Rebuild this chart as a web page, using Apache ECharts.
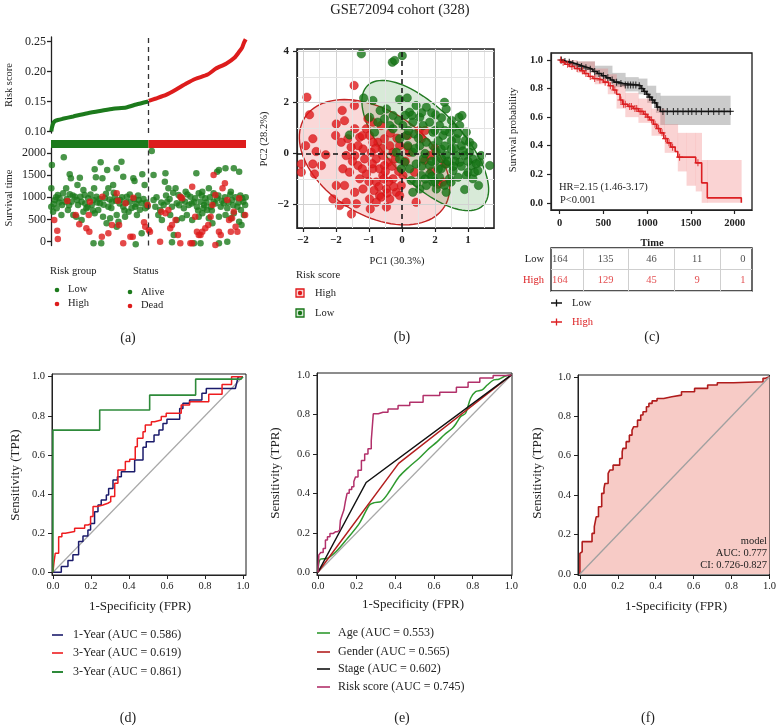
<!DOCTYPE html>
<html><head><meta charset="utf-8">
<script src="https://cdn.jsdelivr.net/npm/echarts@6/dist/echarts.min.js"></script>
<style>html,body{margin:0;padding:0;background:#fff}#c{width:779px;height:725px}</style>
</head><body><div id="c"></div>
<script>
// ================= DATA =================
// (a) risk score curve (patient index sorted by risk, score)
const riskScoreLow = [[1,0.100],[2,0.106],[4,0.113],[7,0.117],[12,0.119],[20,0.121],[38,0.125],[60,0.130],[83,0.134],[105,0.138],[127,0.140],[144,0.145],[164,0.150]];
const riskScoreHigh = [[165,0.151],[177,0.155],[194,0.161],[211,0.170],[228,0.180],[244,0.188],[264,0.195],[278,0.205],[295,0.213],[309,0.223],[317,0.233],[322,0.240],[325,0.248],[328,0.254]];
const riskGroupCounts = [164, 164];
const riskTicks = [0.10,0.15,0.20,0.25];
const survTicks = [0,500,1000,1500,2000];
// (a) survival time (patient index, days)
const survAlive = [[2,1725],[1,1200],[22,1898],[32,1515],[34,1425],[49,1440],[74,1628],[84,1785],[95,1613],[111,1650],[119,1800],[122,1463],[87,1425],[76,1448],[139,1425],[141,1365],[154,1515],[158,1275],[105,1275],[97,1200],[73,1200],[55,1163],[45,1275],[26,1200],[32,1065],[12,1050],[7,938],[15,975],[19,825],[24,900],[35,900],[41,1013],[46,825],[52,900],[57,1050],[63,975],[69,825],[72,938],[77,1013],[83,863],[91,975],[97,788],[103,900],[108,1013],[117,938],[122,788],[128,1013],[134,900],[142,788],[148,938],[153,863],[159,750],[1,788],[4,675],[10,750],[18,600],[29,713],[38,600],[55,675],[60,750],[74,638],[80,713],[88,563],[94,413],[100,525],[111,600],[114,450],[125,563],[131,675],[145,600],[153,188],[72,-38],[85,-38],[143,-60],[52,488],[21,1088],[43,563],[111,338],
[5,850],[9,1000],[14,880],[27,960],[31,820],[37,1040],[44,940],[50,1010],[58,860],[62,780],[67,1060],[71,700],[78,880],[82,960],[89,830],[93,1080],[99,950],[102,760],[106,1100],[110,920],[116,860],[120,1000],[124,700],[127,880],[133,1060],[136,760],[140,960],[144,850],[147,1040],[150,720],[156,960],[161,880],[163,800],
[173,1500],[170,2040],[193,1538],[192,1350],[198,1200],[210,1200],[215,1050],[221,938],[227,1125],[235,1013],[245,1538],[249,1088],[255,1125],[260,975],[266,1200],[274,1088],[280,1575],[283,1613],[294,1650],[303,1125],[308,1650],[317,1575],[322,975],[327,825],[173,938],[176,788],[184,713],[190,825],[196,900],[204,788],[212,863],[224,750],[232,825],[241,900],[246,788],[252,900],[258,825],[263,713],[269,788],[274,900],[280,975],[286,788],[291,863],[297,750],[305,938],[314,788],[320,713],[325,600],[181,600],[187,488],[201,600],[212,488],[221,525],[229,600],[238,488],[249,563],[255,638],[266,525],[272,413],[283,563],[294,600],[303,525],[308,638],[317,450],[321,375],[207,150],[204,-15],[241,-38],[252,-38],[297,0],[283,-38],
[178,1000],[186,880],[194,1040],[200,960],[206,1100],[216,820],[219,1000],[226,900],[230,1060],[237,860],[243,980],[248,700],[254,1040],[257,760],[262,880],[268,1000],[271,700],[277,860],[282,1040],[288,920],[293,1000],[299,880],[302,1060],[307,820],[311,1000],[316,880],[319,1040],[324,900],[328,1000]];
const survDead = [[28,915],[6,488],[11,248],[12,60],[42,600],[48,390],[60,300],[65,225],[64,600],[87,1013],[66,900],[111,1088],[113,923],[126,863],[139,990],[86,113],[97,188],[103,375],[115,375],[122,-38],[134,113],[138,113],[157,435],[159,338],[165,263],[167,225],[163,825],
[186,675],[193,638],[198,713],[204,375],[201,300],[210,488],[214,150],[218,1013],[221,975],[238,1238],[243,563],[246,225],[249,150],[252,150],[255,225],[260,300],[265,375],[269,563],[272,825],[274,1500],[277,1050],[283,225],[286,150],[289,1200],[293,1313],[297,938],[300,488],[303,225],[305,525],[308,675],[311,338],[314,225],[317,975],[327,600],[184,0],[218,-38],[235,-38],[238,-38],[277,-75]];

// (b) PCA
const pcaXTicks = [-3,-2,-1,0,1,2];
const pcaXTickLabels = ['\u22122','\u22122','\u22121','0','2','1'];
const pcaYTicks = [-2,0,2,4];
const pcaYTickLabels = ['\u22122','0','2','4'];
const pcaGridX = [-3,-2.5,-2,-1.5,-1,-0.5,0.5,1,1.5,2,2.5];
const pcaGridY = [-2,-1,1,2,3,4];
const pcaHigh = [[-2.88,2.21],[-2.80,1.52],[-1.45,2.67],[-1.81,1.69],[-1.44,1.88],[-2.70,0.58],[-2.92,0.31],[-3.05,-0.41],[-3.05,-0.73],[-2.60,0.08],[-2.31,-0.05],[-2.70,-0.41],[-2.65,-0.80],[-2.44,-0.47],[-1.99,1.16],[-1.74,1.29],[-1.64,0.58],[-1.84,0.44],[-2.01,0.71],[-1.43,0.97],[-1.28,0.64],[-1.08,0.97],[-0.98,0.71],[-0.88,1.23],[-0.63,1.10],[-0.73,0.44],[-0.53,0.58],[-1.18,0.18],[-1.43,-0.08],[-1.69,-0.08],[-1.79,-0.60],[-1.59,-0.73],[-1.33,-0.47],[-1.13,-0.21],[-0.93,0.05],[-0.78,-0.21],[-0.58,-0.08],[-0.42,-0.34],[-0.27,0.05],[-0.37,0.31],[-0.07,0.31],[-1.99,-1.25],[-1.74,-1.25],[-2.09,-1.78],[-1.89,-2.04],[-1.69,-1.91],[-1.53,-2.37],[-1.43,-1.52],[-1.28,-0.99],[-1.18,-1.39],[-0.98,-1.78],[-0.96,-2.17],[-0.78,-1.12],[-0.68,-1.65],[-0.58,-0.86],[-0.47,-1.39],[-0.37,-1.78],[-0.27,-0.99],[-0.17,-1.52],[-0.02,-1.25],[0.03,-0.86],[-0.63,-1.71],[-0.78,-1.91],[-1.38,-1.97],[-0.47,-2.10],[0.43,-1.91],[-0.07,-1.65],[1.24,-1.12],[0.18,0.25],[0.23,0.05],[0.52,0.90],[0.59,0.58],[0.84,-0.08],[0.18,0.71],[0.69,-0.27],[0.38,-0.73],[-0.88,-0.60],[-1.08,-0.80],[-0.68,-0.60],[-0.53,-0.47],[-0.88,0.44],[-1.33,0.31],[-1.54,0.25],[-1.03,1.36],
[-0.5,-0.7],[-0.3,-0.5],[-0.2,-0.2],[-0.6,0.2],[-0.9,-0.4],[-1.0,-1.1],[-0.7,-1.3],[-0.4,-1.1],[-0.1,-0.7],[-0.25,-1.3],[-0.55,-1.0],[-1.2,-0.6],[-1.5,-0.3],[-0.8,0.2],[-0.15,0.6],[0.1,-0.3],[-0.35,0.8],[-1.2,0.7],[-0.45,-1.55],[-0.85,-1.45],[1.0,0.2],[1.3,-0.4],[0.9,-0.7],[0.7,0.9],[1.1,-1.2]];
const pcaLow = [[-1.23,3.91],[-0.29,3.58],[-0.22,3.65],[0.01,3.84],[-1.16,2.18],[-0.88,2.08],[-0.07,2.12],[0.16,2.18],[-0.66,1.69],[-0.47,1.75],[-0.27,1.49],[0.43,1.88],[0.74,1.82],[1.02,1.52],[1.29,2.01],[1.34,1.75],[1.73,1.42],[1.82,1.49],[1.55,1.03],[1.92,0.51],[2.05,0.44],[2.15,-0.21],[2.35,-0.34],[2.66,-0.47],[2.0,-0.73],[1.95,-0.86],[1.9,-1.41],[2.32,-1.25],[-1.59,0.73],[0.23,1.62],[-0.98,1.42],[-0.73,1.23],[-0.83,0.84],
[0.03,1.10],[0.33,1.23],[0.54,1.42],[0.64,1.10],[0.84,1.23],[0.94,0.84],[1.14,1.10],[1.24,0.71],[1.44,0.84],[1.65,0.58],[1.80,0.31],[-0.07,0.58],[0.18,0.31],[0.33,0.05],[0.54,0.31],[0.74,0.44],[0.94,0.31],[1.04,0.05],[1.19,0.18],[1.34,-0.08],[1.49,0.18],[1.65,-0.08],[1.75,-0.34],[1.90,-0.08],[2.05,0.05],[-0.07,-0.21],[0.08,-0.34],[0.23,-0.60],[0.43,-0.41],[0.64,-0.21],[0.84,-0.47],[1.04,-0.27],[1.19,-0.60],[1.34,-0.41],[1.55,-0.67],[1.70,-0.93],[1.44,-0.99],[1.14,-0.93],[0.94,-1.12],[0.74,-1.25],[0.84,-0.80],[0.59,-0.86],[0.28,-1.06],[1.29,-1.25],[1.49,-1.12],[2.15,-0.99],[2.20,-0.73],[2.30,-0.67],[2.10,-0.47],[2.40,-0.08],[2.15,0.31],[1.95,0.84],[1.75,1.10],[0.13,0.71],[0.38,0.77],[-0.27,0.97],[-0.53,1.36],[-0.37,1.10],[-0.17,0.05],[-0.02,-0.60],[0.33,-1.52],[0.54,-1.39],[1.04,-1.39],[1.34,-1.52],
[0.5,0.6],[0.7,0.0],[0.9,-0.3],[1.1,0.5],[1.3,0.3],[1.5,0.5],[1.6,-0.3],[1.8,-0.5],[1.2,-0.2],[1.0,0.9],[0.6,1.6],[0.9,1.6],[1.2,1.4],[1.5,1.3],[0.3,1.5],[0.1,1.5],[1.7,0.8],[2.0,-0.3],[1.85,0.1],[1.6,0.2],[1.4,-0.3],[1.1,-0.6],[0.9,-0.9],[0.6,-0.5],[0.4,0.2],[0.2,0.9],[-0.1,1.3],[1.3,0.9],[1.55,-0.5],[2.25,-0.4],[0.45,-1.15],[0.7,-1.0],[1.0,-1.1]];
// confidence ellipses: [centerX, centerY, axis1X, axis1Y, axis2X, axis2Y]
const ellipseHigh = [-0.83,-0.34, 2.27,-0.78, -0.20,2.33];
const ellipseLow = [0.707,0.314, 1.747,-2.353, 0.798,0.993];

// (c) Kaplan-Meier
const kmTicksX = [0,500,1000,1500,2000];
const kmTicksY = [0,0.2,0.4,0.6,0.8,1.0];
const kmLow = [[0,1],[30,0.99],[80,0.985],[130,0.975],[180,0.965],[230,0.955],[280,0.945],[330,0.935],[380,0.92],[430,0.905],[480,0.89],[530,0.875],[580,0.86],[620,0.845],[680,0.835],[730,0.825],[900,0.82],[930,0.80],[960,0.78],[990,0.76],[1020,0.74],[1050,0.72],[1080,0.70],[1110,0.67],[1150,0.64],[1960,0.64]];
const kmHigh = [[0,1],[20,0.985],[60,0.97],[110,0.955],[170,0.94],[230,0.925],[280,0.905],[330,0.885],[380,0.87],[430,0.86],[500,0.845],[560,0.82],[610,0.79],[650,0.76],[690,0.72],[720,0.69],[780,0.675],[840,0.66],[900,0.64],[960,0.62],[1000,0.60],[1030,0.58],[1070,0.55],[1110,0.52],[1150,0.49],[1190,0.45],[1230,0.42],[1270,0.39],[1320,0.36],[1350,0.32],[1555,0.28],[1623,0.14],[1687,0.035],[2076,0.0]];
const kmLowCensor = [[20,1.0],[60,0.99],[110,0.985],[150,0.975],[200,0.965],[250,0.955],[300,0.945],[350,0.935],[400,0.92],[450,0.905],[500,0.89],[550,0.875],[600,0.86],[650,0.845],[700,0.835],[750,0.825],[780,0.825],[810,0.825],[840,0.825],[870,0.825],[910,0.82],[940,0.80],[970,0.78],[1000,0.76],[1030,0.74],[1060,0.72],[1090,0.70],[1120,0.67],[1180,0.64],[1230,0.64],[1300,0.64],[1350,0.64],[1410,0.64],[1470,0.64],[1510,0.64],[1560,0.64],[1620,0.64],[1700,0.64],[1760,0.64],[1820,0.64],[1880,0.64],[1950,0.64]];
const kmHighCensor = [[10,1.0],[40,0.985],[90,0.97],[140,0.955],[200,0.94],[260,0.925],[300,0.905],[350,0.885],[400,0.87],[460,0.86],[520,0.845],[580,0.82],[630,0.79],[700,0.72],[730,0.69],[750,0.69],[800,0.675],[820,0.675],[860,0.66],[880,0.66],[920,0.64],[940,0.64],[980,0.62],[1010,0.60],[1050,0.58],[1090,0.55],[1130,0.52],[1170,0.49],[1210,0.45],[1250,0.42],[1290,0.39],[1370,0.32],[1580,0.28]];
// confidence bands: [time, lower, upper]
const kmLowCI = [[0,1,1],[200,0.93,0.99],[400,0.88,0.96],[600,0.81,0.91],[750,0.78,0.88],[900,0.76,0.87],[1000,0.70,0.82],[1100,0.63,0.77],[1150,0.545,0.75],[1950,0.545,0.75]];
const kmHighCI = [[0,1,1],[100,0.95,1.0],[200,0.91,0.99],[400,0.83,0.94],[550,0.76,0.90],[650,0.66,0.83],[750,0.60,0.77],[900,0.56,0.73],[1050,0.47,0.66],[1200,0.35,0.55],[1350,0.22,0.49],[1450,0.12,0.49],[1555,0.08,0.49],[1623,0.0,0.30],[1690,0.0,0.30],[2076,0,0.3]];
const riskTableTimes = [0,500,1000,1500,2000];
const riskTableLow = [164,135,46,11,0];
const riskTableHigh = [164,129,45,9,1];
const riskTableGrid = [250,750,1250,1750];

// (d) time ROC
const rocTicks = [0,0.2,0.4,0.6,0.8,1.0];
const diag = [[0,0],[1,1]];
const roc1Year = [[0,0],[0.044,0],[0.044,0.029],[0.079,0.029],[0.079,0.06],[0.105,0.06],[0.105,0.089],[0.135,0.089],[0.135,0.157],[0.158,0.157],[0.158,0.186],[0.184,0.186],[0.184,0.216],[0.198,0.216],[0.198,0.25],[0.219,0.25],[0.219,0.31],[0.237,0.31],[0.237,0.344],[0.254,0.344],[0.254,0.37],[0.281,0.37],[0.281,0.395],[0.293,0.395],[0.293,0.429],[0.316,0.429],[0.316,0.472],[0.339,0.472],[0.339,0.489],[0.36,0.489],[0.36,0.514],[0.43,0.514],[0.43,0.574],[0.474,0.574],[0.474,0.639],[0.491,0.639],[0.491,0.668],[0.532,0.668],[0.532,0.702],[0.558,0.702],[0.558,0.727],[0.579,0.727],[0.579,0.761],[0.6,0.761],[0.6,0.782],[0.667,0.782],[0.667,0.838],[0.684,0.838],[0.684,0.864],[0.719,0.864],[0.719,0.881],[0.784,0.881],[0.784,0.915],[0.807,0.915],[0.807,0.94],[0.96,0.94],[0.975,1],[1,1]];
const roc3YearA = [[0,0],[0.005,0.046],[0.012,0.046],[0.012,0.097],[0.03,0.097],[0.03,0.182],[0.047,0.182],[0.047,0.199],[0.065,0.199],[0.065,0.208],[0.114,0.208],[0.114,0.225],[0.167,0.225],[0.167,0.242],[0.184,0.242],[0.184,0.247],[0.198,0.247],[0.198,0.285],[0.211,0.285],[0.211,0.336],[0.233,0.336],[0.233,0.344],[0.263,0.344],[0.263,0.353],[0.289,0.353],[0.289,0.361],[0.304,0.361],[0.304,0.387],[0.325,0.387],[0.325,0.455],[0.342,0.455],[0.342,0.523],[0.381,0.523],[0.381,0.566],[0.404,0.566],[0.404,0.578],[0.433,0.578],[0.433,0.642],[0.444,0.642],[0.444,0.685],[0.474,0.685],[0.474,0.719],[0.486,0.719],[0.486,0.753],[0.518,0.753],[0.518,0.77],[0.535,0.77],[0.535,0.779],[0.57,0.779],[0.57,0.796],[0.596,0.796],[0.596,0.813],[0.675,0.813],[0.675,0.855],[0.719,0.855],[0.719,0.872],[0.82,0.872],[0.82,0.91],[0.89,0.91],[0.89,0.96],[0.94,0.96],[0.94,1],[1,1]];
const roc3YearB = [[0,0],[0,0.727],[0.246,0.727],[0.246,0.83],[0.509,0.83],[0.509,0.906],[0.751,0.906],[0.751,0.988],[0.99,0.988],[1,1]];
const rocDNames = ['1-Year (AUC = 0.586)','3-Year (AUC = 0.619)','3-Year (AUC = 0.861)'];

// (e) clinical ROC
const rocAge = [[0,0],[0.012,0.066],[0.051,0.071],[0.094,0.105],[0.146,0.164],[0.214,0.248],[0.266,0.341],[0.292,0.353],[0.326,0.358],[0.369,0.409],[0.42,0.485],[0.472,0.535],[0.523,0.578],[0.566,0.62],[0.617,0.662],[0.652,0.696],[0.695,0.73],[0.715,0.755],[0.738,0.789],[0.763,0.806],[0.789,0.882],[0.815,0.916],[0.849,0.924],[0.875,0.949],[0.909,0.975],[0.935,0.978],[0.969,0.995],[1,1]];
const rocGender = [[0,0],[0.417,0.552],[1,1]];
const rocStage = [[0,0],[0.249,0.455],[1,1]];
const rocRisk = [[0,0],[0.009,0.088],[0.02,0.1],[0.034,0.12],[0.043,0.163],[0.055,0.18],[0.069,0.197],[0.09,0.205],[0.112,0.214],[0.12,0.264],[0.13,0.29],[0.138,0.315],[0.146,0.36],[0.155,0.4],[0.168,0.42],[0.181,0.433],[0.19,0.46],[0.198,0.483],[0.216,0.517],[0.233,0.567],[0.25,0.6],[0.267,0.626],[0.284,0.668],[0.288,0.803],[0.336,0.811],[0.388,0.828],[0.44,0.845],[0.509,0.862],[0.578,0.896],[0.681,0.912],[0.75,0.938],[0.802,0.963],[0.871,0.985],[0.94,0.997],[1,1]];
const rocENames = ['Age (AUC = 0.553)','Gender (AUC = 0.565)','Stage (AUC = 0.602)','Risk score (AUC = 0.745)'];

// (f) model ROC
const rocModel = [[0,0],[0,0.105],[0.012,0.113],[0.029,0.164],[0.064,0.164],[0.076,0.206],[0.086,0.24],[0.098,0.29],[0.115,0.341],[0.127,0.409],[0.132,0.434],[0.149,0.459],[0.158,0.51],[0.175,0.527],[0.179,0.552],[0.21,0.552],[0.223,0.586],[0.227,0.62],[0.244,0.637],[0.261,0.671],[0.275,0.704],[0.284,0.73],[0.304,0.747],[0.321,0.78],[0.333,0.806],[0.351,0.823],[0.364,0.848],[0.381,0.865],[0.407,0.878],[0.442,0.89],[0.485,0.899],[0.536,0.907],[0.605,0.924],[0.674,0.941],[0.725,0.958],[0.811,0.97],[0.966,0.975],[0.979,0.992],[1,1]];
const modelText = ['model','AUC: 0.777','CI: 0.726-0.827'];

// ================= STYLE =================
const FONT = '"Liberation Serif","Times New Roman","DejaVu Serif",serif';
const GA = '#1c7a1c', RA = '#dd1c1c';
const GP = '#177517', RP = '#e0191b';
const KR = '#dc1f22';
const NAVY = '#1b1b6b', R3 = '#ee1c1f', G3 = '#2e8a3a';
const EAGE = '#2f9a2f', EGEN = '#b31f1f', ESTG = '#111111', ERISK = '#b2306a';

function vAxis(grid, min, max, ticks, o) {
  o = o || {};
  return {
    type:'value', gridIndex:grid, min:min, max:max, show: !o.hide,
    axisLine:{show:true, onZero:false, lineStyle:{color:'#222', width:o.lw||1}},
    axisTick:{show:true, inside:false, length:o.tl||4, customValues:ticks, lineStyle:{color:'#222', width:o.lw||1}},
    axisLabel:{show:true, customValues:ticks, margin:(o.m==null?6:o.m), fontSize:o.fs||10.5, fontFamily:FONT, fontWeight:o.fw||'normal', color:'#222', formatter:o.fmt || (v => String(v))},
    splitLine:{show:false}
  };
}
const f1 = v => v.toFixed(1);
function txt(text, x, y, o) { o=o||{}; return {type:'text', x:x, y:y, rotation:o.rot||0, silent:true, z:100,
  style:{text:text, fontSize:o.s||12, fontFamily:FONT, fontWeight:o.w||'normal', fill:o.c||'#222', align:o.a||'center', verticalAlign:'middle'}}; }
function seg(x1,y1,x2,y2,color,w){ return {type:'line', silent:true, z:100, shape:{x1:x1,y1:y1,x2:x2,y2:y2}, style:{stroke:color, lineWidth:w||1.5}}; }
function dot(cx,cy,r,color){ return {type:'circle', silent:true, z:100, shape:{cx:cx,cy:cy,r:r}, style:{fill:color}}; }

function ellipseRender(fill, stroke){
  return function(params, api){
    const cx=api.value(0), cy=api.value(1), ux=api.value(2), uy=api.value(3), vx=api.value(4), vy=api.value(5);
    const pts=[];
    for(let k=0;k<96;k++){ const t=k/96*2*Math.PI; pts.push(api.coord([cx+ux*Math.cos(t)+vx*Math.sin(t), cy+uy*Math.cos(t)+vy*Math.sin(t)])); }
    return {type:'polygon', shape:{points:pts}, style:{fill:fill, stroke:stroke, lineWidth:1.4}};
  };
}
function ciItems(ci){ const out=[]; for(let i=0;i<ci.length-1;i++) out.push([ci[i][0], ci[i+1][0], ci[i][1], ci[i][2]]); return out; }
function ciRender(fill){
  return function(params, api){
    const a=api.coord([api.value(0), api.value(3)]);
    const b=api.coord([api.value(1), api.value(2)]);
    return {type:'rect', shape:{x:a[0], y:a[1], width:b[0]-a[0]+0.3, height:b[1]-a[1]}, style:{fill:fill}};
  };
}
const PLUS = 'path://M4.2,0H5.8V10H4.2ZM0,4.2H10V5.8H0Z';
const dashedV = x => ({silent:true, symbol:'none', label:{show:false}, lineStyle:{color:'#333', type:[5,4], width:1.3}, data:[{xAxis:x}]});

const pcaGridLines = [];
pcaGridX.forEach(v => pcaGridLines.push({xAxis:v, lineStyle:{color: Number.isInteger(v)?'#d2d2d2':'#e4e4e4'}}));
pcaGridY.forEach(v => pcaGridLines.push({yAxis:v, lineStyle:{color: (v%2===0)?'#d2d2d2':'#e4e4e4'}}));

const tableLow = riskTableTimes.map((t,i)=>[t,'Low',riskTableLow[i]]);
const tableHigh = riskTableTimes.map((t,i)=>[t,'High',riskTableHigh[i]]);

// ================= OPTION =================
const boxGrid = (l,t,w,h,bw) => ({left:l, top:t, width:w, height:h, show:true, borderColor:'#1a1a1a', borderWidth:bw||1.2, backgroundColor:'transparent'});
const option = {
  animation:false,
  backgroundColor:'#fff',
  textStyle:{fontFamily:FONT},
  grid:[
    {left:51, top:37, width:195, height:96},          //0 a risk
    {left:51, top:140, width:195, height:8},          //1 a bar
    {left:51, top:148, width:195, height:97.5},       //2 a survival
    boxGrid(297,49,197,179,1.5),                      //3 b pca
    boxGrid(551,53,201,157,1.3),                      //4 c km
    boxGrid(551,248,201,43,1.3),                      //5 c table
    boxGrid(52,374,194,201,1),                        //6 d
    boxGrid(317,373,195,202,1),                       //7 e
    boxGrid(578,375,196,200,1)                        //8 f
  ],
  xAxis:[
    {type:'value', gridIndex:0, min:0.5, max:328.5, show:false},
    {type:'value', gridIndex:1, min:0, max:328, show:false},
    {type:'value', gridIndex:2, min:0.5, max:328.5, show:false},
    vAxis(3,-3.18,2.79,pcaXTicks,{m:7,fs:11,fw:'bold',lw:1.2,fmt:v=>pcaXTickLabels[pcaXTicks.indexOf(v)]}),
    vAxis(4,-99,2198,kmTicksX,{m:8,fs:10.5,fw:'bold',lw:1.2}),
    {type:'value', gridIndex:5, min:-98, max:2100, show:false},
    vAxis(6,-0.005,1.016,rocTicks,{m:6,fs:10.5,fmt:f1}),
    vAxis(7,-0.005,1.003,rocTicks,{m:6,fs:10.5,fmt:f1}),
    vAxis(8,-0.01,1.0,rocTicks,{m:6,fs:10.5,fmt:f1})
  ],
  yAxis:[
    vAxis(0,0.0973,0.2578,riskTicks,{m:5,fs:12,lw:1.3,fmt:v=>v.toFixed(2)}),
    {type:'category', gridIndex:1, data:['g'], show:false},
    vAxis(2,-86,2108,survTicks,{m:5,fs:12,lw:1.3}),
    vAxis(3,-2.92,4.1,pcaYTicks,{m:8,fs:11,fw:'bold',lw:1.2,fmt:v=>pcaYTickLabels[pcaYTicks.indexOf(v)]}),
    vAxis(4,-0.05,1.049,kmTicksY,{m:8,fs:10.5,fw:'bold',lw:1.2,fmt:f1}),
    {type:'category', gridIndex:5, data:['High','Low'],
      axisLine:{show:false}, axisTick:{show:false},
      axisLabel:{margin:7, fontFamily:FONT, fontSize:10.5, formatter:v => v==='High' ? '{h|High}' : '{l|Low}',
        rich:{h:{color:KR, fontFamily:FONT, fontSize:10.5}, l:{color:'#222', fontFamily:FONT, fontSize:10.5}}},
      splitLine:{show:true, lineStyle:{color:'#cfcfcf', width:1}}},
    vAxis(6,-0.014,1.014,rocTicks,{m:7,fs:10.5,fmt:f1}),
    vAxis(7,-0.014,1.01,rocTicks,{m:7,fs:10.5,fmt:f1}),
    vAxis(8,-0.005,1.009,rocTicks,{m:7,fs:10.5,fmt:f1})
  ],
  series:[
    // ---- (a)
    {type:'line', xAxisIndex:0, yAxisIndex:0, data:riskScoreLow, symbol:'none', smooth:0.2, lineStyle:{color:GA, width:4}, z:3, markLine:dashedV(164.5)},
    {type:'line', xAxisIndex:0, yAxisIndex:0, data:riskScoreHigh, symbol:'none', smooth:0.2, lineStyle:{color:RA, width:4}, z:3},
    {type:'bar', xAxisIndex:1, yAxisIndex:1, stack:'grp', data:[riskGroupCounts[0]], barWidth:8, itemStyle:{color:GA}},
    {type:'bar', xAxisIndex:1, yAxisIndex:1, stack:'grp', data:[riskGroupCounts[1]], barWidth:8, itemStyle:{color:RA}},
    {type:'scatter', xAxisIndex:2, yAxisIndex:2, data:survAlive, symbolSize:6.5, itemStyle:{color:GA}, z:3, markLine:dashedV(164.5)},
    {type:'scatter', xAxisIndex:2, yAxisIndex:2, data:survDead, symbolSize:6.5, itemStyle:{color:RA}, z:4},
    // ---- (b)
    {type:'line', xAxisIndex:3, yAxisIndex:3, data:[[0,0]], symbol:'none', lineStyle:{opacity:0}, z:0,
      markLine:{silent:true, symbol:'none', label:{show:false}, lineStyle:{type:'solid', width:1}, data:pcaGridLines}},
    {type:'custom', xAxisIndex:3, yAxisIndex:3, data:[ellipseHigh], renderItem:ellipseRender('rgba(226,40,40,0.18)','#c42424'), encode:{x:0,y:1}, z:1, silent:true},
    {type:'custom', xAxisIndex:3, yAxisIndex:3, data:[ellipseLow], renderItem:ellipseRender('rgba(40,140,40,0.18)','#237a23'), encode:{x:0,y:1}, z:1, silent:true},
    {type:'scatter', xAxisIndex:3, yAxisIndex:3, data:pcaHigh, symbolSize:8.5, itemStyle:{color:RP, borderColor:'#c01010', borderWidth:0.5}, z:3},
    {type:'scatter', xAxisIndex:3, yAxisIndex:3, data:pcaLow, symbolSize:8.5, itemStyle:{color:GP, borderColor:'#0f5f0f', borderWidth:0.5}, z:4},
    {type:'line', xAxisIndex:3, yAxisIndex:3, data:[[0,0]], symbol:'none', lineStyle:{opacity:0}, z:5,
      markLine:{silent:true, symbol:'none', label:{show:false}, lineStyle:{color:'#111', type:[5,4], width:1.5}, data:[{xAxis:0},{yAxis:0}]}},
    // ---- (c)
    {type:'custom', xAxisIndex:4, yAxisIndex:4, data:ciItems(kmLowCI), renderItem:ciRender('rgba(140,140,140,0.45)'), encode:{x:[0,1], y:[2,3]}, z:1, silent:true},
    {type:'custom', xAxisIndex:4, yAxisIndex:4, data:ciItems(kmHighCI), renderItem:ciRender('rgba(240,110,110,0.3)'), encode:{x:[0,1], y:[2,3]}, z:1, silent:true},
    {type:'line', xAxisIndex:4, yAxisIndex:4, data:kmLow, step:'end', symbol:'none', lineStyle:{color:'#111', width:1.6}, z:3},
    {type:'line', xAxisIndex:4, yAxisIndex:4, data:kmHigh, step:'end', symbol:'none', lineStyle:{color:KR, width:1.6}, z:4},
    {type:'scatter', xAxisIndex:4, yAxisIndex:4, data:kmLowCensor, symbol:PLUS, symbolSize:7, itemStyle:{color:'#111'}, z:3},
    {type:'scatter', xAxisIndex:4, yAxisIndex:4, data:kmHighCensor, symbol:PLUS, symbolSize:7, itemStyle:{color:KR}, z:4},
    {type:'scatter', xAxisIndex:5, yAxisIndex:5, data:tableLow, symbolSize:0, silent:true,
      label:{show:true, position:'inside', formatter:p=>String(p.value[2]), color:'#222', fontFamily:FONT, fontSize:10.5},
      markLine:{silent:true, symbol:'none', label:{show:false}, lineStyle:{color:'#cfcfcf', type:'solid', width:1}, data:riskTableGrid.map(v=>({xAxis:v}))}},
    {type:'scatter', xAxisIndex:5, yAxisIndex:5, data:tableHigh, symbolSize:0, silent:true,
      label:{show:true, position:'inside', formatter:p=>String(p.value[2]), color:KR, fontFamily:FONT, fontSize:10.5}},
    // ---- (d)
    {type:'line', xAxisIndex:6, yAxisIndex:6, data:diag, symbol:'none', lineStyle:{color:'#a8a8a8', width:1.2}, z:2},
    {type:'line', xAxisIndex:6, yAxisIndex:6, data:roc1Year, symbol:'none', lineStyle:{color:NAVY, width:1.5}, z:3},
    {type:'line', xAxisIndex:6, yAxisIndex:6, data:roc3YearA, symbol:'none', lineStyle:{color:R3, width:1.5}, z:4},
    {type:'line', xAxisIndex:6, yAxisIndex:6, data:roc3YearB, symbol:'none', lineStyle:{color:G3, width:1.6}, z:5},
    // ---- (e)
    {type:'line', xAxisIndex:7, yAxisIndex:7, data:diag, symbol:'none', lineStyle:{color:'#a8a8a8', width:1.2}, z:2},
    {type:'line', xAxisIndex:7, yAxisIndex:7, data:rocAge, symbol:'none', smooth:0.3, lineStyle:{color:EAGE, width:1.5}, z:3},
    {type:'line', xAxisIndex:7, yAxisIndex:7, data:rocGender, symbol:'none', lineStyle:{color:EGEN, width:1.5}, z:4},
    {type:'line', xAxisIndex:7, yAxisIndex:7, data:rocStage, symbol:'none', lineStyle:{color:ESTG, width:1.5}, z:5},
    {type:'line', xAxisIndex:7, yAxisIndex:7, data:rocRisk, step:'middle', symbol:'none', lineStyle:{color:ERISK, width:1.5}, z:6},
    // ---- (f)
    {type:'line', xAxisIndex:8, yAxisIndex:8, data:rocModel, step:'start', symbol:'none', lineStyle:{color:'#b01c1c', width:1.6}, areaStyle:{color:'#f7cbc6', opacity:1}, z:2},
    {type:'line', xAxisIndex:8, yAxisIndex:8, data:diag, symbol:'none', lineStyle:{color:'#a0a0a0', width:1.3}, z:3}
  ],
  graphic:[
    txt('GSE72094 cohort (328)', 400, 10, {s:14.5}),
    // (a)
    txt('Risk score', 9, 85, {s:10.5, rot:Math.PI/2}),
    txt('Survival time', 9, 198, {s:10.5, rot:Math.PI/2}),
    txt('Risk group', 50, 271, {s:10.5, a:'left'}),
    txt('Status', 133, 271, {s:10.5, a:'left'}),
    dot(57,290,2.3,GA), txt('Low', 68, 289, {s:10.5, a:'left'}),
    dot(57,304,2.3,RA), txt('High', 68, 303, {s:10.5, a:'left'}),
    dot(130,292,2.3,GA), txt('Alive', 141, 292, {s:10.5, a:'left'}),
    dot(130,306,2.3,RA), txt('Dead', 141, 305, {s:10.5, a:'left'}),
    txt('(a)', 128, 338, {s:14}),
    // (b)
    txt('PC1 (30.3%)', 397, 261, {s:10.5}),
    txt('PC2 (28.2%)', 264, 139, {s:10.5, rot:Math.PI/2}),
    txt('Risk score', 296, 275, {s:10.5, a:'left'}),
    {type:'rect', silent:true, z:100, shape:{x:296,y:289,width:8,height:8}, style:{fill:'rgba(226,40,40,0.2)', stroke:RP, lineWidth:1.3}},
    dot(300,293,2.2,RP), txt('High', 315, 293, {s:10.5, a:'left'}),
    {type:'rect', silent:true, z:100, shape:{x:296,y:309,width:8,height:8}, style:{fill:'rgba(40,140,40,0.2)', stroke:GP, lineWidth:1.3}},
    dot(300,313,2.2,GP), txt('Low', 315, 313, {s:10.5, a:'left'}),
    txt('(b)', 402, 337, {s:14}),
    // (c)
    txt('Survival probability', 513, 130, {s:10.5, rot:Math.PI/2}),
    txt('Time', 652, 243, {s:10.5, w:'bold'}),
    txt('HR=2.15 (1.46-3.17)', 559, 187, {s:10.5, a:'left'}),
    txt('P<0.001', 560, 200, {s:10.5, a:'left'}),
    seg(551,303,562,303,'#111',1.5), seg(556.5,299.5,556.5,306.5,'#111',1.3), txt('Low', 572, 303, {s:10.5, a:'left'}),
    seg(551,322,562,322,KR,1.5), seg(556.5,318.5,556.5,325.5,KR,1.3), txt('High', 572, 322, {s:10.5, a:'left', c:KR}),
    txt('(c)', 652, 337, {s:14}),
    // (d)
    txt('Sensitivity (TPR)', 16, 475, {s:13, rot:Math.PI/2}),
    txt('1-Specificity (FPR)', 140, 607, {s:13}),
    seg(52,635,63,635,NAVY,1.6), txt(rocDNames[0], 73, 635, {s:12, a:'left'}),
    seg(52,653,63,653,R3,1.6), txt(rocDNames[1], 73, 653, {s:12, a:'left'}),
    seg(52,672,63,672,G3,2), txt(rocDNames[2], 73, 672, {s:12, a:'left'}),
    txt('(d)', 128, 718, {s:14}),
    // (e)
    txt('Sensitivity (TPR)', 276, 473, {s:13, rot:Math.PI/2}),
    txt('1-Specificity (FPR)', 413, 605, {s:13}),
    seg(317,633,330,633,EAGE,1.6), txt(rocENames[0], 338, 633, {s:12, a:'left'}),
    seg(317,652,330,652,EGEN,1.6), txt(rocENames[1], 338, 652, {s:12, a:'left'}),
    seg(317,669,330,669,ESTG,1.6), txt(rocENames[2], 338, 669, {s:12, a:'left'}),
    seg(317,687,330,687,ERISK,1.6), txt(rocENames[3], 338, 687, {s:12, a:'left'}),
    txt('(e)', 402, 718, {s:14}),
    // (f)
    txt('Sensitivity (TPR)', 538, 473, {s:13, rot:Math.PI/2}),
    txt('1-Specificity (FPR)', 676, 607, {s:13}),
    txt(modelText[0], 767, 541, {s:10.5, a:'right'}),
    txt(modelText[1], 767, 553, {s:10.5, a:'right'}),
    txt(modelText[2], 767, 565, {s:10.5, a:'right'}),
    txt('(f)', 648, 718, {s:14})
  ]
};
const chart = echarts.init(document.getElementById('c'), null, {renderer:'canvas'});
chart.setOption(option);
</script>
</body></html>
